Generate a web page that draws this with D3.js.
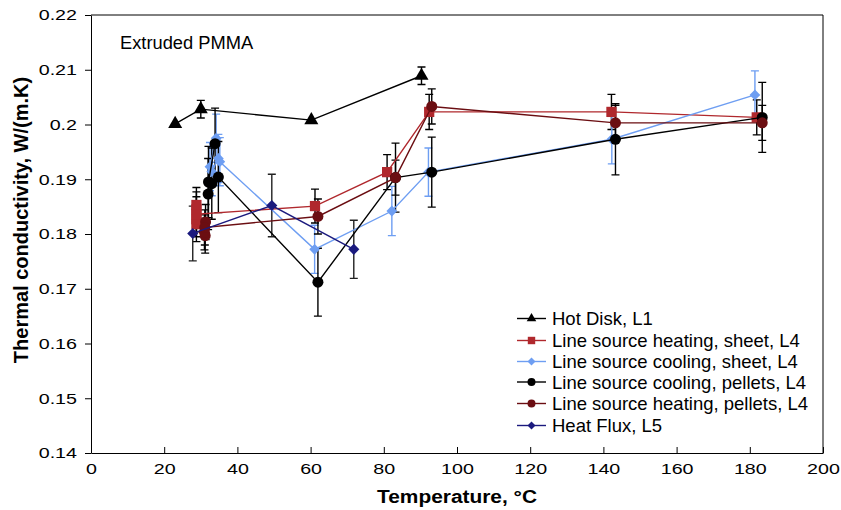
<!DOCTYPE html>
<html><head><meta charset="utf-8">
<script src="https://cdn.jsdelivr.net/npm/d3@7/dist/d3.min.js"></script>
<style>
body{margin:0;background:#fff;}
svg{display:block;font-family:"Liberation Sans",Arial,sans-serif;}
</style></head>
<body><svg id="c" width="841" height="510"></svg>
<script>
// ---- data ----
const xTicks = [0,20,40,60,80,100,120,140,160,180,200];
const yTicks = [0.14,0.15,0.16,0.17,0.18,0.19,0.20,0.21,0.22];

const hotDiskX = [23.0, 30.0, 60.2, 90.3];
const hotDiskY = [0.2001, 0.2028, 0.2008, 0.2089];
const hotDiskE = [0, 0.0016, 0, 0.0016];

const heatSheetX = [28.8, 28.8, 28.8, 28.8, 28.8, 61.2, 80.9, 92.4, 142.2, 181.9];
const heatSheetY = [0.1818, 0.1827, 0.1845, 0.1853, 0.1836, 0.1851, 0.1913, 0.2023, 0.2023, 0.2013];
const heatSheetE = [0.0032, 0.0032, 0.0032, 0.0032, 0.0032, 0.0031, 0.0032, 0.0032, 0.0032, 0.0032];

const coolSheetX = [34.2, 32.5, 33.0, 34.8, 35.2, 61.1, 82.2, 92.2, 142.3, 181.4];
const coolSheetY = [0.1975, 0.1923, 0.1914, 0.1938, 0.1932, 0.1772, 0.1842, 0.1913, 0.1973, 0.2054];
const coolSheetE = [0.0044, 0.0044, 0.0044, 0.0044, 0.0044, 0.0044, 0.0045, 0.0044, 0.0045, 0.0044];

const coolPelX = [33.9, 32.1, 33.0, 32.0, 34.8, 62.0, 83.2, 93.1, 143.3, 183.4];
const coolPelY = [0.1965, 0.1895, 0.1892, 0.1873, 0.1904, 0.1712, 0.1903, 0.1913, 0.1973, 0.2013];
const coolPelE = [0.0065, 0.0065, 0.0065, 0.0065, 0.0065, 0.0062, 0.0063, 0.0064, 0.0065, 0.0064];

const heatPelX = [31.2, 31.0, 31.3, 31.1, 62.0, 83.2, 93.1, 143.3, 183.4];
const heatPelY = [0.1797, 0.1803, 0.1822, 0.1812, 0.1832, 0.1903, 0.2033, 0.2003, 0.2003];
const heatPelE = [0.0032, 0.0032, 0.0032, 0.0032, 0.0032, 0.0032, 0.0032, 0.0032, 0.0032];

const fluxX = [27.8, 49.4, 71.8];
const fluxY = [0.1801, 0.1852, 0.1772];
const fluxE = [0.0050, 0.0057, 0.0053];

const seriesNames = ["Hot Disk, L1","Line source heating, sheet, L4","Line source cooling, sheet, L4",
  "Line source cooling, pellets, L4","Line source heating, pellets, L4","Heat Flux, L5"];

// ---- build ----
const series = [
  {name:seriesNames[0], xs:hotDiskX, ys:hotDiskY, es:hotDiskE, color:"#000000", errColor:"#000", sym:d3.symbolTriangle, rot:0, size:85, lsize:40},
  {name:seriesNames[1], xs:heatSheetX, ys:heatSheetY, es:heatSheetE, color:"#b0282d", errColor:"#000", sym:d3.symbolSquare, rot:0, size:105, lsize:55},
  {name:seriesNames[2], xs:coolSheetX, ys:coolSheetY, es:coolSheetE, color:"#6e9ef2", errColor:"#6e9ef2", sym:d3.symbolSquare, rot:45, size:58, lsize:32},
  {name:seriesNames[3], xs:coolPelX, ys:coolPelY, es:coolPelE, color:"#000000", errColor:"#000", sym:d3.symbolCircle, rot:0, size:95, lsize:50},
  {name:seriesNames[4], xs:heatPelX, ys:heatPelY, es:heatPelE, color:"#6b0e12", errColor:"#000", sym:d3.symbolCircle, rot:0, size:95, lsize:50},
  {name:seriesNames[5], xs:fluxX, ys:fluxY, es:fluxE, color:"#1b1a7e", errColor:"#222", sym:d3.symbolSquare, rot:45, size:62, lsize:32}
];

const svg = d3.select("#c");
const x = d3.scaleLinear().domain([0,200]).range([91,823]);
const y = d3.scaleLinear().domain([0.14,0.22]).range([453,15]);

// frame
svg.append("path").attr("d",`M${x(0)},${y(0.22)}H${x(200)}V${y(0.14)}`).attr("fill","none").attr("stroke","#000").attr("stroke-width",1);

const TX = 1.27;
const gy = svg.append("g").attr("transform",`translate(${x(0)},0)`)
  .call(d3.axisLeft(y).tickValues(yTicks).tickSizeInner(6).tickSizeOuter(0).tickFormat(d=>String(+d.toFixed(2))));
gy.selectAll("text").attr("font-size",15.5).attr("font-family","Liberation Sans, Arial").attr("fill","#000")
  .attr("x",-14/TX).attr("transform",`scale(${TX},1)`);
const gx = svg.append("g").attr("transform",`translate(0,${y(0.14)})`)
  .call(d3.axisBottom(x).tickValues(xTicks).tickSizeInner(-6).tickSizeOuter(0).tickPadding(10).tickFormat(d3.format("d")));
gx.selectAll("text").attr("font-size",15.5).attr("font-family","Liberation Sans, Arial").attr("fill","#000")
  .attr("transform",`scale(${TX},1)`);
svg.selectAll(".domain").attr("stroke","#000");
svg.selectAll(".tick line").attr("stroke","#000");

// error bars
const cap = 4;
series.forEach(s=>{
  const g = svg.append("g").attr("stroke",s.errColor).attr("stroke-width",1.4).attr("fill","none");
  s.xs.forEach((xv,i)=>{
    const e = s.es[i]; if(!e) return;
    const px = x(xv), y1 = y(s.ys[i]+e), y2 = y(s.ys[i]-e);
    g.append("path").attr("d",`M${px},${y1}V${y2}M${px-cap},${y1}H${px+cap}M${px-cap},${y2}H${px+cap}`);
  });
});

// lines + markers
const line = d3.line().x(d=>x(d[0])).y(d=>y(d[1]));
series.forEach(s=>{
  const pts = s.xs.map((v,i)=>[v,s.ys[i]]);
  svg.append("path").datum(pts).attr("d",line).attr("fill","none").attr("stroke",s.color).attr("stroke-width",1.4);
  svg.append("g").selectAll("path").data(pts).join("path")
    .attr("transform",d=>`translate(${x(d[0])},${y(d[1])}) rotate(${s.rot})`)
    .attr("d",d3.symbol().type(s.sym).size(s.size)).attr("fill",s.color);
});

// legend
const legY = [318.5, 340.5, 361.5, 382, 403.5, 425.5];
series.forEach((s,i)=>{
  const g = svg.append("g").attr("transform",`translate(0,${legY[i]})`);
  g.append("line").attr("x1",517).attr("x2",546).attr("stroke",s.color).attr("stroke-width",1.4);
  g.append("path").attr("transform",`translate(531.5,0) rotate(${s.rot})`).attr("d",d3.symbol().type(s.sym).size(s.lsize)).attr("fill",s.color);
  g.append("text").attr("x",552).attr("y",6.6).attr("font-size",18.5).attr("fill","#000").text(s.name);
});

svg.append("text").attr("x",120).attr("y",49.3).attr("font-size",18.3).attr("fill","#000").text("Extruded PMMA");

svg.append("text").attr("transform",`translate(457,503) scale(1.1,1)`).attr("text-anchor","middle")
  .attr("font-size",19).attr("font-weight","bold").attr("fill","#000").text("Temperature, °C");
svg.append("text").attr("transform",`translate(27.5,220) rotate(-90)`).attr("text-anchor","middle")
  .attr("font-size",20).attr("font-weight","bold").attr("fill","#000").text("Thermal conductivity, W/(m.K)");
</script></body></html>
